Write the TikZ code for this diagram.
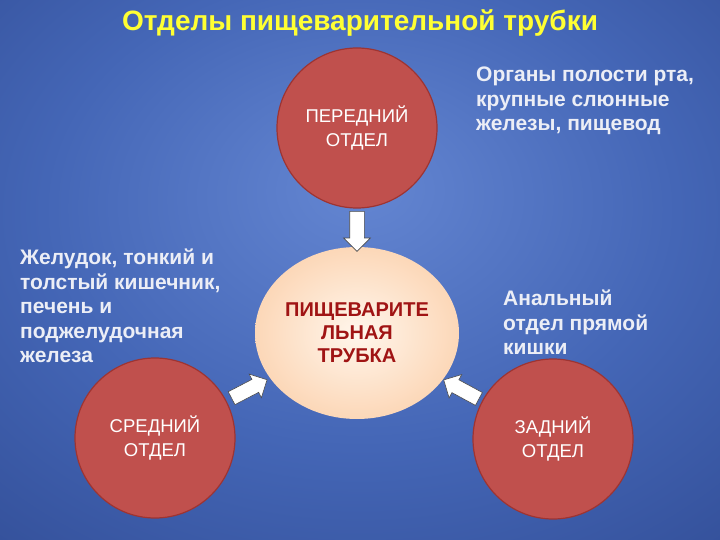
\documentclass[tikz,border=0pt]{standalone}
\usepackage{fontspec}
\setmainfont{Liberation Sans}
\usetikzlibrary{shapes.geometric,shapes.arrows}

\definecolor{bgin}{RGB}{100,134,210}
\definecolor{bgmid}{RGB}{68,102,182}
\definecolor{bgout}{RGB}{22,40,102}
\definecolor{otdelfill}{RGB}{192,80,77}
\definecolor{otdelrim}{RGB}{158,52,50}
\definecolor{tubein}{RGB}{255,246,236}
\definecolor{tubeout}{RGB}{250,192,144}
\definecolor{tubetext}{RGB}{160,20,20}
\definecolor{titlecol}{RGB}{255,255,51}
\definecolor{labelcol}{RGB}{236,238,246}

\pgfdeclareradialshading{bgshade}{\pgfpoint{0bp}{8bp}}{color(0bp)=(bgin); color(22bp)=(bgmid); color(72bp)=(bgout)}
\pgfdeclareradialshading{tubeshade}{\pgfpoint{0bp}{0bp}}{color(0bp)=(tubein); color(44bp)=(tubeout); color(50bp)=(tubeout)}

\tikzset{
  otdel/.style={circle, fill=otdelfill, draw=otdelrim, line width=1.2pt, minimum size=160pt,
    text=white, font=\fontsize{18.5}{24}\selectfont, align=center},
  tube/.style={ellipse, shading=tubeshade, minimum width=204pt, minimum height=172pt, inner sep=0pt,
    text=tubetext, font=\bfseries\fontsize{20}{23}\selectfont, align=center},
  organs/.style={text=labelcol, font=\bfseries\fontsize{21}{24.5}\selectfont,
    align=left, anchor=north west, inner sep=0pt},
  blockarrow/.style={single arrow, fill=white, draw=gray!60!black, line width=0.6pt,
    minimum height=40pt, inner xsep=0pt, inner ysep=7pt, single arrow head extend=6pt,
    sloped, allow upside down}
}

\begin{document}
\begin{tikzpicture}[x=1pt,y=-1pt]
\shade[shading=bgshade] (0,0) rectangle (720,540);
\useasboundingbox (0,0) rectangle (720,540);

\node[text=titlecol, font=\bfseries\fontsize{28}{32}\selectfont] (title) at (360,23) {Отделы пищеварительной трубки};

\node[otdel] (front) at (357,128) {ПЕРЕДНИЙ\\ОТДЕЛ};
\node[tube] (tube) at (357,333) {ПИЩЕВАРИТЕ\\ЛЬНАЯ\\ТРУБКА};
\node[otdel] (middle) at (155,438) {СРЕДНИЙ\\ОТДЕЛ};
\node[otdel] (back) at (553,439) {ЗАДНИЙ\\ОТДЕЛ};

% block arrows into the tube
\path (front.south) -- (tube.north) node[blockarrow, midway] (arrFront) {};
\path (middle) -- (tube) node[blockarrow, pos=0.45] (arrMiddle) {};
\path (back) -- (tube) node[blockarrow, pos=0.45] (arrBack) {};

\node[organs] (frontOrgans) at (476,67) {Органы полости рта,\\крупные слюнные\\железы, пищевод};
\node[organs] (middleOrgans) at (20,249) {Желудок, тонкий и\\толстый кишечник,\\печень и\\поджелудочная\\железа};
\node[organs] (backOrgans) at (503,290) {Анальный\\отдел прямой\\кишки};
\end{tikzpicture}
\end{document}
